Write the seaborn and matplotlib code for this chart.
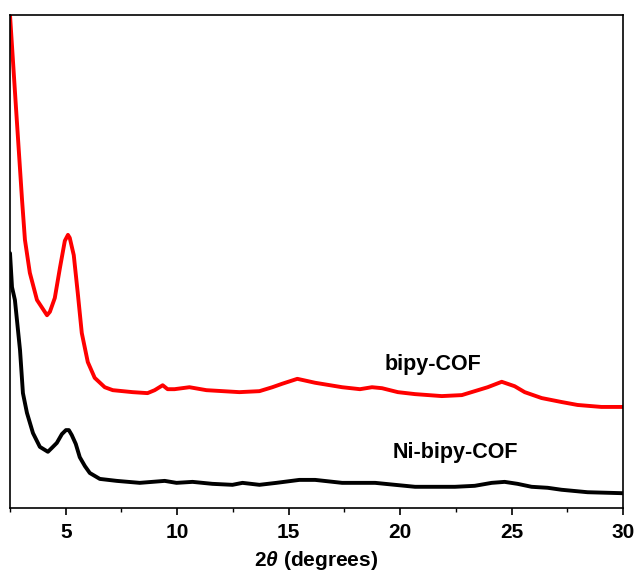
import matplotlib
matplotlib.use("Agg")
import matplotlib.pyplot as plt
from matplotlib.ticker import MultipleLocator
import seaborn as sns
import pandas as pd

# (arbitrary intensity units, 0-100 axis range)
bipy_x = [2.50, 2.77, 3.04, 3.17, 3.39, 3.71, 4.16, 4.29, 4.51, 4.74, 4.96, 5.10, 5.18, 5.36,
          5.54, 5.72, 5.99, 6.30, 6.75, 7.11, 8.00, 8.67, 8.99, 9.35, 9.57, 9.88, 10.55,
          11.31, 12.79, 13.69, 14.27, 14.71, 15.39, 16.19, 17.40, 18.20, 18.74, 19.19, 19.90,
          20.67, 21.87, 22.77, 23.93, 24.56, 25.14, 25.59, 26.35, 27.24, 27.96, 29.03, 30.0]
bipy_y = [100.0, 81.1, 62.5, 54.4, 47.7, 42.2, 39.1, 39.8, 42.6, 48.7, 54.2, 55.4, 54.8, 51.3,
          43.6, 35.5, 29.6, 26.4, 24.5, 23.9, 23.5, 23.3, 23.9, 24.9, 24.1, 24.1, 24.5,
          23.9, 23.5, 23.7, 24.5, 25.2, 26.2, 25.4, 24.5, 24.1, 24.5, 24.3, 23.5,
          23.1, 22.7, 22.9, 24.5, 25.6, 24.7, 23.5, 22.3, 21.5, 20.9, 20.5, 20.5]

ni_x = [2.50, 2.59, 2.72, 2.95, 3.08, 3.26, 3.53, 3.84, 4.20, 4.38, 4.60, 4.83, 5.01, 5.14,
        5.27, 5.45, 5.63, 5.86, 6.08, 6.53, 7.29, 8.32, 9.44, 9.97, 10.69, 11.58, 12.48,
        12.93, 13.69, 14.45, 15.48, 16.19, 17.40, 18.88, 19.77, 20.67, 22.46, 23.35, 24.11,
        24.69, 25.27, 25.90, 26.62, 27.24, 28.41, 30.0]
ni_y = [51.7, 44.8, 42.2, 32.0, 23.3, 19.3, 15.2, 12.4, 11.4, 12.2, 13.2, 15.0, 15.8, 15.8,
        14.8, 13.0, 10.3, 8.5, 7.1, 5.9, 5.5, 5.1, 5.5, 5.1, 5.3, 4.9, 4.7,
        5.1, 4.7, 5.1, 5.7, 5.7, 5.1, 5.1, 4.7, 4.3, 4.3, 4.5, 5.1,
        5.3, 4.9, 4.3, 4.1, 3.7, 3.2, 3.0]

labels = ["bipy-COF", "Ni-bipy-COF"]
x_ticks = [5, 10, 15, 20, 25, 30]

sns.set_style("ticks")
plt.rcParams["font.family"] = ["Liberation Sans", "DejaVu Sans"]
plt.rcParams["font.weight"] = "bold"
plt.rcParams["text.color"] = "black"
plt.rcParams["axes.labelcolor"] = "black"
plt.rcParams["xtick.color"] = "black"
plt.rcParams["mathtext.fontset"] = "custom"
plt.rcParams["mathtext.rm"] = "Liberation Sans:bold"
plt.rcParams["mathtext.it"] = "Liberation Sans:italic:bold"
plt.rcParams["mathtext.bf"] = "Liberation Sans:bold"

fig = plt.figure(figsize=(6.36, 5.77), dpi=100)
ax = fig.add_axes([10 / 636, 1 - 508 / 577, 613 / 636, 493 / 577])

df_r = pd.DataFrame({"x": bipy_x, "y": bipy_y})
df_k = pd.DataFrame({"x": ni_x, "y": ni_y})
sns.lineplot(data=df_r, x="x", y="y", ax=ax, color="#ff0000", linewidth=2.8, sort=False,
             solid_joinstyle="round", solid_capstyle="round")
sns.lineplot(data=df_k, x="x", y="y", ax=ax, color="#000000", linewidth=2.8, sort=False,
             solid_joinstyle="round", solid_capstyle="round")

ax.set_xlim(2.5, 30)
ax.set_ylim(0, 100)
ax.xaxis.set_major_locator(MultipleLocator(5))
ax.xaxis.set_minor_locator(MultipleLocator(2.5))
ax.set_xticks(x_ticks)
ax.set_xticklabels([str(t) for t in x_ticks])
ax.set_yticks([])
ax.tick_params(axis="x", which="major", direction="out", length=5, width=1.2,
               labelsize=15, pad=6, colors="black")
ax.tick_params(axis="x", which="minor", direction="out", length=3, width=1.0, colors="black")
for lab in ax.get_xticklabels():
    lab.set_fontweight("bold")
for s in ax.spines.values():
    s.set_visible(True)
    s.set_linewidth(1.2)
    s.set_color("black")

ax.set_xlabel(r"2$\theta$ (degrees)", fontsize=15, fontweight="bold", labelpad=5, color="black")
ax.set_ylabel("")

ax.text(21.47, 29.2, labels[0], fontsize=15.5, fontweight="bold", ha="center", va="center",
        color="black")
ax.text(22.46, 11.2, labels[1], fontsize=15.5, fontweight="bold", ha="center", va="center",
        color="black")

fig.savefig("out.png", dpi=100)
